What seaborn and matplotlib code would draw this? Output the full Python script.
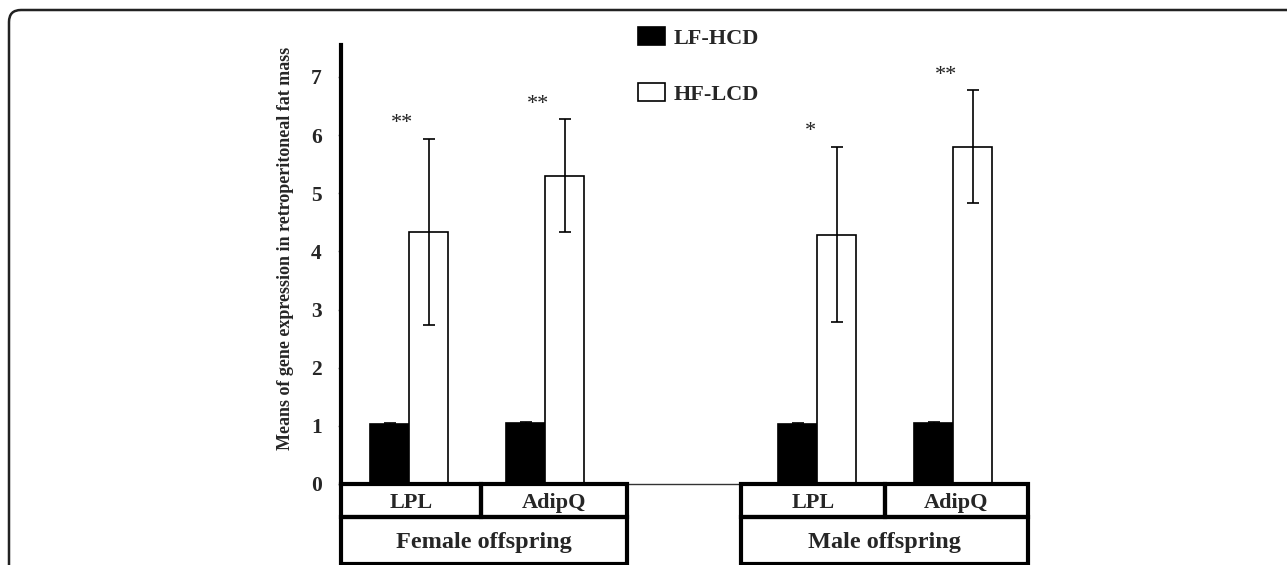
import pandas as pd
import seaborn as sns
import matplotlib.pyplot as plt
from matplotlib.patches import Rectangle, FancyBboxPatch
from matplotlib.transforms import IdentityTransform, blended_transform_factory

sns.set_style("white")
plt.rcParams['font.family'] = ['Liberation Serif', 'DejaVu Serif']

# values
slots = ["F_LPL", "F_AdipQ", "gap", "M_LPL", "M_AdipQ"]
bar_slots = ["F_LPL", "F_AdipQ", "M_LPL", "M_AdipQ"]
diets = ["LF-HCD", "HF-LCD"]
lf_means = [1.03, 1.05, 1.03, 1.05]
hf_means = [4.34, 5.30, 4.29, 5.80]
lf_err = [0.02, 0.01, 0.02, 0.01]
hf_err = [1.60, 0.97, 1.50, 0.97]
stars = ["**", "**", "*", "**"]
genes = ["LPL", "AdipQ", "LPL", "AdipQ"]
groups = ["Female offspring", "Male offspring"]

df = pd.DataFrame({
    'slot': bar_slots * 2,
    'diet': [diets[0]] * 4 + [diets[1]] * 4,
    'value': lf_means + hf_means,
})

fig = plt.figure(figsize=(12.87, 5.65), dpi=100)
ax = fig.add_axes([0.265, 0.1434, 0.5284, 0.777])

sns.barplot(data=df, x='slot', y='value', hue='diet', order=slots, hue_order=diets,
            palette={"LF-HCD": "black", "HF-LCD": "white"}, saturation=1,
            edgecolor="black", linewidth=1.2, width=0.575, errorbar=None, ax=ax)

# error bars and significance marks on the bars seaborn drew
for cont, errs in zip(ax.containers, [lf_err, hf_err]):
    for bar, e in zip(cont.patches, errs):
        cx = bar.get_x() + bar.get_width() / 2
        ax.errorbar(cx, bar.get_height(), yerr=e, color="black", lw=1.2,
                    capsize=4, capthick=1.2, zorder=5)

for bar, e, s in zip(ax.containers[1].patches, hf_err, stars):
    gx = bar.get_x() - 0.05
    ax.text(gx, bar.get_height() + e + 0.1, s, ha='center', va='bottom',
            fontsize=16, color="#222222")

ax.set_xlim(-0.5, 4.5)
ax.set_ylim(0, 7.55)
ax.set_yticks(range(0, 8))
ax.set_xticks([])
ax.set_xlabel("")
ax.set_ylabel("Means of gene expression in retroperitoneal fat mass",
              fontsize=13, fontweight='bold')
ax.yaxis.set_label_coords(-0.069, 0.537)
ax.tick_params(axis='y', length=2, width=1, color="#888888", pad=12,
               labelsize=15.5, left=True)
for lab in ax.get_yticklabels():
    lab.set_fontweight('bold')

for side in ['top', 'right']:
    ax.spines[side].set_visible(False)
ax.spines['left'].set_linewidth(3)
ax.spines['left'].set_color("black")
ax.spines['bottom'].set_linewidth(1)
ax.spines['bottom'].set_color("#333333")

# table of categories under the axis
tr = blended_transform_factory(ax.transData, ax.transAxes)
gene_edges = [(-0.5, 0.53), (0.53, 1.6), (2.44, 3.5), (3.5, 4.55)]
group_edges = [(-0.5, 1.6), (2.44, 4.55)]
r1, r2 = -0.0745, -0.182
for (x0, x1), g in zip(gene_edges, genes):
    ax.add_patch(Rectangle((x0, r1), x1 - x0, -r1, transform=tr, fill=False,
                           lw=3, edgecolor="black", clip_on=False, zorder=6))
    ax.text((x0 + x1) / 2, r1 / 2 - 0.006, g, transform=tr, ha='center', va='center',
            fontsize=16, fontweight='bold')
for (x0, x1), g in zip(group_edges, groups):
    ax.add_patch(Rectangle((x0, r2), x1 - x0, r1 - r2, transform=tr, fill=False,
                           lw=3, edgecolor="black", clip_on=False, zorder=6))
    ax.text((x0 + x1) / 2, (r1 + r2) / 2 - 0.006, g, transform=tr, ha='center', va='center',
            fontsize=17.5, fontweight='bold')

handles, labels = ax.get_legend_handles_labels()
ax.legend(handles, labels, loc='upper left', bbox_to_anchor=(638 / 1287, 1 - 27 / 565),
          bbox_transform=fig.transFigure, frameon=False, borderpad=0, borderaxespad=0,
          handlelength=1.2, handleheight=0.85, handletextpad=0.4, labelspacing=1.55,
          prop={'size': 16, 'weight': 'bold'})

# panel frame with rounded top-left corner
fig.patches.append(FancyBboxPatch((9, -60), 1400, 615, transform=IdentityTransform(),
                                  boxstyle="round,pad=0,rounding_size=12",
                                  fill=False, lw=1.8, edgecolor="#222222"))

fig.savefig("out.png", dpi=100)
